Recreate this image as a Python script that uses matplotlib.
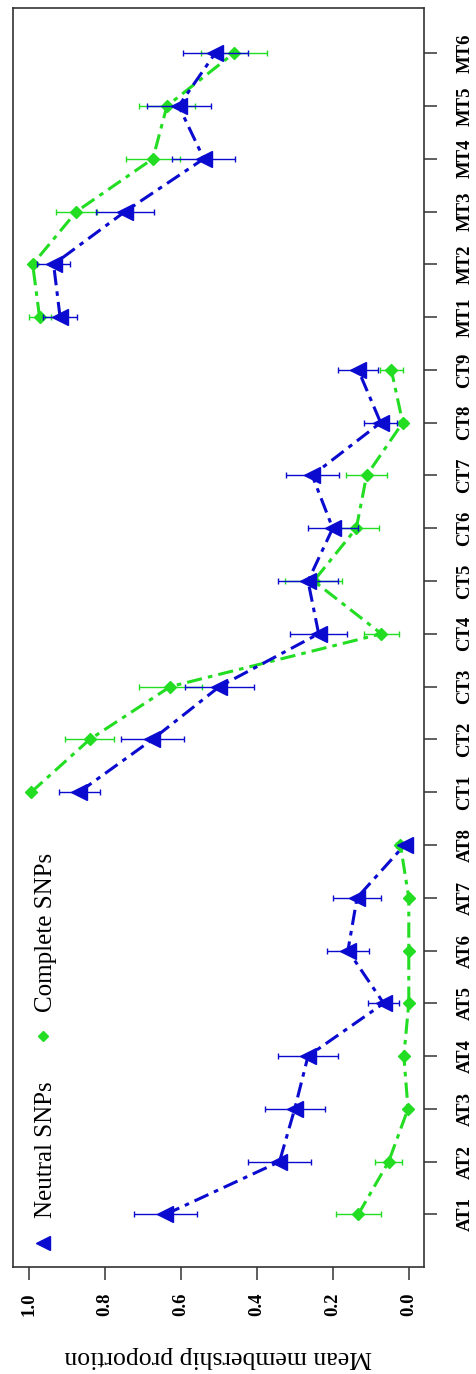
import matplotlib
matplotlib.use("Agg")
import matplotlib.pyplot as plt
import numpy as np

plt.rcParams['font.family'] = ['Liberation Serif', 'DejaVu Serif']

categories = ["AT1", "AT2", "AT3", "AT4", "AT5", "AT6", "AT7", "AT8",
              "CT1", "CT2", "CT3", "CT4", "CT5", "CT6", "CT7", "CT8", "CT9",
              "MT1", "MT2", "MT3", "MT4", "MT5", "MT6"]
groups = ["AT", "CT", "MT"]

neutral = [0.640, 0.340, 0.300, 0.265, 0.066, 0.160, 0.136, 0.011,
           0.867, 0.674, 0.498, 0.237, 0.265, 0.200, 0.254, 0.074, 0.133,
           0.917, 0.934, 0.746, 0.539, 0.605, 0.509]
neutral_err = [0.083, 0.082, 0.079, 0.079, 0.041, 0.056, 0.063, 0.008,
               0.054, 0.083, 0.090, 0.075, 0.080, 0.066, 0.070, 0.043, 0.053,
               0.045, 0.044, 0.077, 0.083, 0.084, 0.086]

complete = [0.133, 0.053, 0.002, 0.013, 0.000, 0.000, 0.000, 0.022,
            0.993, 0.839, 0.627, 0.072, 0.250, 0.138, 0.111, 0.016, 0.046,
            0.971, 0.989, 0.874, 0.673, 0.636, 0.460]
complete_err = [0.059, 0.036, 0.000, 0.000, 0.000, 0.000, 0.000, 0.012,
                0.000, 0.064, 0.083, 0.046, 0.075, 0.059, 0.055, 0.010, 0.030,
                0.029, 0.008, 0.053, 0.071, 0.074, 0.086]

value_ticks = [1.0, 0.8, 0.6, 0.4, 0.2, 0.0]

blue = '#0b0bcf'
green = '#22dd22'
dashdot = (0, (5, 2, 1.5, 2))

W, H = 476, 1374
fig = plt.figure(figsize=(W / 100, H / 100), dpi=100)
# axes box in pixels: x 13..424, y 8..1267 (from top)
ax = fig.add_axes([13.3 / W, 1 - 1266.7 / H, (424 - 13.3) / W, (1266.7 - 8.3) / H])

pos = np.arange(len(categories))
neutral = np.array(neutral)
neutral_err = np.array(neutral_err)
complete = np.array(complete)
complete_err = np.array(complete_err)

# plot is the usual category/value chart turned a quarter turn,
# one line per group so AT, CT and MT are not joined
for g in groups:
    idx = np.array([c.startswith(g) for c in categories])
    ax.errorbar(complete[idx], pos[idx], xerr=complete_err[idx], color=green,
                ecolor=green, elinewidth=1, capsize=2.5, capthick=1,
                linestyle=dashdot, lw=2.2, marker='D', markersize=6.5, zorder=2)
    ax.errorbar(neutral[idx], pos[idx], xerr=neutral_err[idx], color=blue,
                ecolor=blue, elinewidth=1, capsize=2.5, capthick=1,
                linestyle=dashdot, lw=2.2, marker='<', markersize=12, zorder=3)

ax.set_xlim(1.04, -0.04)
ax.set_ylim(-0.99, 22.85)

ax.set_xticks(value_ticks)
ax.set_xticklabels(["%.1f" % v for v in value_ticks], rotation=90,
                   fontsize=13.5, fontweight='bold')
ax.set_yticks(pos)
ax.set_yticklabels(categories, rotation=90, fontsize=13.5, fontweight='bold',
                   va='center')
ax.yaxis.tick_right()
ax.tick_params(axis='x', length=9.4, width=1.1, pad=9, color='#333333')
ax.tick_params(axis='y', length=9.4, width=1.1, pad=14, color='#333333')
for s in ax.spines.values():
    s.set_color('#333333')
    s.set_linewidth(1.2)

fig.text(218.6 / W, 1 - 1357 / H, "Mean membership proportion", rotation=180,
         ha='center', va='center', fontsize=18.5)

# legend, drawn turned like the rest
ax.plot([0.0723], [0.0188], marker='<', color=blue, markersize=10,
        transform=ax.transAxes, clip_on=False)
ax.text(0.0796, 0.0387, "Neutral SNPs", rotation=90, ha='center', va='bottom',
        fontsize=18, transform=ax.transAxes)
ax.plot([0.0723], [0.1833], marker='D', color=green, markersize=5,
        transform=ax.transAxes, clip_on=False)
ax.text(0.0796, 0.2024, "Complete SNPs", rotation=90, ha='center', va='bottom',
        fontsize=18, transform=ax.transAxes)

fig.savefig("out.png", dpi=100)
